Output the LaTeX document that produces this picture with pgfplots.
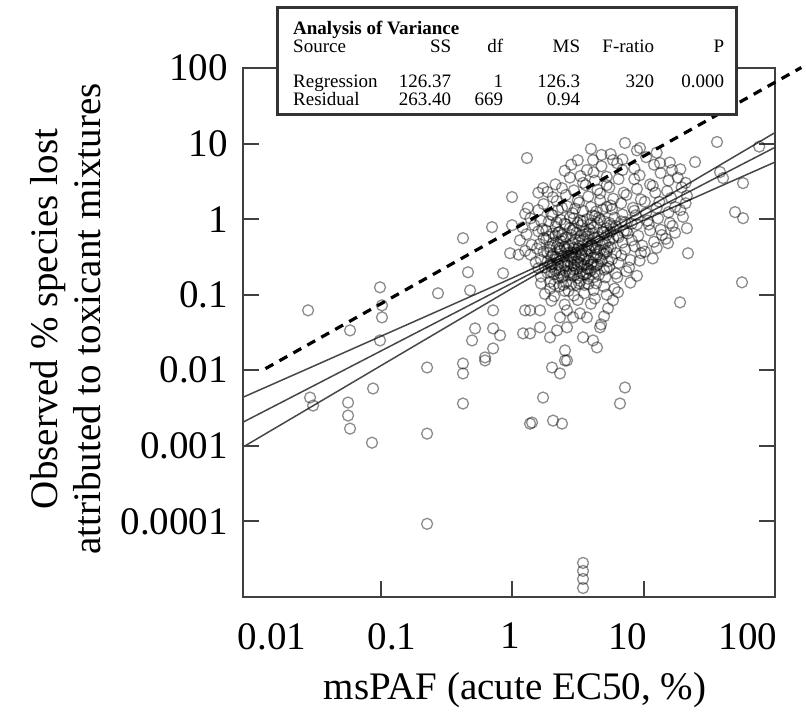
\documentclass[border=0pt]{standalone}
\usepackage{pgfplots}
\pgfplotsset{compat=1.18}
\usepackage{fontspec}
\setmainfont{Liberation Serif}
\newcommand{\bigf}{\fontsize{39}{43}\selectfont}
\newcommand{\boxf}{\fontsize{19}{21}\selectfont}
\begin{document}
\begin{tikzpicture}
\path[use as bounding box] (-243pt,-117pt) rectangle (563pt,597pt);
\begin{axis}[
  at={(0pt,0pt)}, anchor=south west,
  scale only axis, width=532pt, height=529pt,
  xmin=-2.046, xmax=2, ymin=-5, ymax=2,
  clip=false,
  axis line style={draw=black!75, line width=2pt},
  /pgf/number format/assume math mode=true,
  tick align=inside,
  major tick length=16pt,
  xtick={-1,0,1}, xticklabels={,,},
  xtick pos=bottom,
  xtick style={draw=black!75, line width=2pt},
  extra x ticks={-1.825,-0.913,-0.015,0.882,1.795},
  extra x tick labels={\textrm{0.01},\textrm{0.1},\textrm{1},\textrm{10},\textrm{100}},
  extra x tick style={major tick length=0pt, tick style={draw=none}},
  ytick={-4,-3,-2,-1,0,1,2},
  yticklabels={\textrm{0.0001},\textrm{0.001},\textrm{0.01},\textrm{0.1},\textrm{1},\textrm{10},\textrm{100}},
  ytick pos=both, yticklabel pos=left,
  ytick style={draw=black!75, line width=2pt},
  tick label style={font=\bigf, inner sep=0pt},
  xticklabel style={anchor=north, yshift=-26pt},
  yticklabel style={anchor=east, xshift=-15pt},
]
% scatter: log10 values of (msPAF %, observed % species lost)
\addplot[only marks, mark=o, mark size=5.5pt, mark options={draw=black, draw opacity=0.45, line width=1.3pt}] table {
x y
-1.551 -1.207
-1.004 -0.902
-0.989 -1.141
-0.989 -1.300
-1.004 -1.605
-1.232 -1.472
-1.536 -2.361
-1.513 -2.467
-1.247 -2.427
-1.247 -2.599
-1.232 -2.772
-1.057 -2.241
-1.065 -2.958
-0.646 -1.963
-0.646 -2.838
-0.373 -1.910
-0.373 -2.042
-0.373 -2.440
-0.205 -1.870
-0.646 -4.032
-0.563 -0.981
-0.373 -0.252
-0.335 -0.703
-0.319 -0.942
-0.152 -0.106
0.000 0.292
-0.015 -0.451
-0.068 -0.716
0.114 0.809
-0.144 -1.207
-0.281 -1.446
-0.144 -1.446
-0.091 -1.538
-0.304 -1.605
-0.205 -1.830
0.084 -1.512
0.099 -1.207
0.137 -2.706
-0.144 -1.711
0.304 -1.963
0.365 -2.042
0.418 -1.870
0.236 -2.361
0.152 -2.692
0.312 -2.666
0.380 -2.706
0.859 -2.228
0.821 -2.440
0.540 -4.549
0.540 -4.655
0.540 -4.761
0.540 -4.881
0.137 -1.207
0.213 -1.207
0.137 -1.512
0.213 -1.432
0.289 -1.565
0.342 -1.472
0.418 -1.432
0.365 -1.300
0.464 -1.300
0.418 -1.207
0.517 -1.247
0.570 -1.300
0.540 -1.565
0.616 -1.605
0.669 -1.432
0.646 -1.698
0.403 -1.737
0.403 -1.870
1.338 -0.451
1.749 -0.836
1.278 -1.101
0.806 -0.968
0.768 -1.074
0.730 -1.180
0.700 -1.286
0.677 -1.393
1.392 0.756
1.559 1.021
1.757 0.477
1.696 0.093
1.757 0.013
1.186 -0.318
0.859 1.008
0.768 0.782
0.973 0.942
1.217 0.650
1.125 0.743
1.582 0.623
1.605 0.544
0.616 0.782
0.236 0.411
0.000 -0.080
1.880 0.960
0.60 0.93
0.75 0.86
0.95 0.91
1.10 0.88
0.50 0.78
0.68 0.85
0.84 0.79
1.02 0.82
1.20 0.75
0.45 0.72
0.57 0.65
0.68 0.70
0.80 0.74
0.93 0.67
1.08 0.72
1.28 0.66
0.40 0.64
0.52 0.57
0.62 0.62
0.72 0.56
0.84 0.65
0.97 0.58
1.13 0.61
1.26 0.55
0.33 0.46
0.44 0.55
0.54 0.48
0.63 0.51
0.72 0.45
0.81 0.53
0.93 0.53
1.05 0.46
1.19 0.51
1.32 0.48
0.27 0.36
0.38 0.41
0.47 0.38
0.56 0.45
0.65 0.39
0.74 0.42
0.85 0.35
0.95 0.40
1.07 0.44
1.18 0.37
1.29 0.42
0.20 0.35
0.31 0.29
0.41 0.32
0.50 0.25
0.58 0.30
0.67 0.34
0.77 0.27
0.87 0.32
0.98 0.26
1.09 0.35
1.21 0.28
1.33 0.31
0.12 0.15
0.24 0.20
0.34 0.24
0.42 0.17
0.51 0.22
0.60 0.16
0.67 0.25
0.75 0.18
0.83 0.21
0.92 0.15
1.01 0.23
1.12 0.23
1.24 0.16
1.32 0.21
0.10 0.07
0.20 0.12
0.30 0.06
0.38 0.15
0.46 0.08
0.54 0.11
0.61 0.05
0.69 0.13
0.76 0.13
0.84 0.06
0.93 0.11
1.02 0.08
1.10 0.15
1.19 0.09
1.28 0.12
0.14 0.01
0.22 -0.02
0.31 0.05
0.37 -0.01
0.44 0.02
0.50 -0.05
0.57 0.00
0.63 0.04
0.70 -0.03
0.78 0.02
0.86 -0.04
0.94 0.05
1.03 -0.02
1.11 0.01
1.20 -0.05
1.30 0.03
0.08 -0.11
0.17 -0.08
0.26 -0.15
0.33 -0.10
0.40 -0.06
0.47 -0.13
0.53 -0.08
0.59 -0.14
0.65 -0.05
0.72 -0.12
0.79 -0.09
0.87 -0.15
0.95 -0.07
1.04 -0.07
1.13 -0.14
1.22 -0.09
1.33 -0.12
0.11 -0.20
0.20 -0.16
0.28 -0.23
0.35 -0.18
0.41 -0.24
0.46 -0.15
0.52 -0.22
0.58 -0.19
0.63 -0.25
0.69 -0.17
0.75 -0.17
0.81 -0.24
0.88 -0.19
0.96 -0.22
1.05 -0.15
1.14 -0.21
1.24 -0.18
0.06 -0.28
0.15 -0.34
0.24 -0.25
0.31 -0.32
0.37 -0.29
0.43 -0.35
0.48 -0.27
0.54 -0.27
0.60 -0.34
0.65 -0.29
0.71 -0.32
0.77 -0.25
0.84 -0.31
0.91 -0.28
0.99 -0.35
1.08 -0.30
1.17 -0.26
0.10 -0.42
0.19 -0.39
0.27 -0.45
0.34 -0.37
0.40 -0.37
0.45 -0.44
0.50 -0.39
0.56 -0.42
0.61 -0.35
0.67 -0.41
0.73 -0.38
0.79 -0.45
0.86 -0.40
0.93 -0.36
1.01 -0.43
1.10 -0.38
0.05 -0.47
0.14 -0.47
0.22 -0.54
0.30 -0.49
0.36 -0.52
0.42 -0.45
0.47 -0.51
0.53 -0.48
0.58 -0.55
0.64 -0.50
0.70 -0.46
0.76 -0.53
0.83 -0.48
0.90 -0.54
0.98 -0.45
1.07 -0.52
0.18 -0.57
0.25 -0.64
0.31 -0.59
0.37 -0.62
0.42 -0.55
0.47 -0.61
0.52 -0.58
0.57 -0.65
0.62 -0.60
0.68 -0.56
0.74 -0.63
0.81 -0.58
0.89 -0.64
0.97 -0.55
0.20 -0.65
0.27 -0.71
0.33 -0.68
0.39 -0.75
0.44 -0.70
0.49 -0.66
0.54 -0.73
0.60 -0.68
0.66 -0.74
0.72 -0.65
0.79 -0.72
0.87 -0.69
0.95 -0.75
0.22 -0.76
0.29 -0.83
0.35 -0.78
0.41 -0.84
0.47 -0.75
0.52 -0.82
0.58 -0.79
0.64 -0.85
0.71 -0.77
0.80 -0.77
0.90 -0.84
0.22 -0.85
0.29 -0.92
0.36 -0.89
0.43 -0.95
0.49 -0.87
0.55 -0.87
0.62 -0.94
0.70 -0.89
0.78 -0.92
0.25 -0.99
0.32 -1.02
0.40 -0.95
0.47 -1.01
0.55 -0.98
0.63 -1.05
0.72 -1.00
0.30 -1.08
0.40 -1.13
0.50 -1.07
0.60 -1.12
0.28 -0.03
0.41 -0.07
0.52 -0.02
0.60 -0.06
0.67 -0.01
0.75 -0.08
0.83 -0.03
0.91 -0.06
0.23 -0.13
0.36 -0.17
0.44 -0.12
0.56 -0.16
0.62 -0.11
0.70 -0.18
0.77 -0.13
0.85 -0.16
0.26 -0.27
0.33 -0.22
0.39 -0.26
0.45 -0.21
0.51 -0.28
0.57 -0.23
0.66 -0.24
0.74 -0.28
0.80 -0.22
0.21 -0.33
0.29 -0.37
0.35 -0.33
0.40 -0.36
0.46 -0.32
0.51 -0.36
0.57 -0.34
0.63 -0.38
0.69 -0.33
0.75 -0.37
0.24 -0.43
0.31 -0.47
0.37 -0.42
0.43 -0.48
0.48 -0.44
0.53 -0.46
0.59 -0.42
0.65 -0.47
0.72 -0.43
0.27 -0.56
0.34 -0.53
0.40 -0.57
0.45 -0.52
0.50 -0.56
0.55 -0.53
0.61 -0.57
0.67 -0.52
0.73 -0.56
0.30 -0.63
0.36 -0.67
0.42 -0.62
0.47 -0.67
0.53 -0.63
0.58 -0.66
0.64 -0.62
0.70 -0.67
0.32 -0.73
0.38 -0.77
0.44 -0.74
0.50 -0.78
0.56 -0.73
0.62 -0.77
0.35 0.12
0.48 0.14
0.64 0.10
0.72 0.16
0.34 -0.04
0.47 0.01
0.54 -0.03
0.66 0.02
0.74 -0.05
0.31 -0.19
0.38 -0.21
0.49 -0.18
0.55 -0.20
0.61 -0.19
0.72 -0.21
0.29 -0.41
0.36 -0.39
0.42 -0.40
0.47 -0.38
0.53 -0.41
0.58 -0.39
0.64 -0.40
0.70 -0.41
0.33 -0.50
0.39 -0.49
0.45 -0.49
0.51 -0.51
0.56 -0.49
0.62 -0.51
0.29 -0.60
0.35 -0.60
0.40 -0.61
0.45 -0.59
0.50 -0.60
0.55 -0.61
0.60 -0.60
0.65 -0.60
0.30 -0.70
0.36 -0.71
0.41 -0.69
0.46 -0.71
0.52 -0.70
0.57 -0.71
0.63 -0.70
0.32 -0.86
0.39 -0.87
0.45 -0.86
0.51 -0.85
0.58 -0.86
};
% regression line and confidence band (log10 units)
\addplot[draw=black!72, line width=1.5pt] coordinates {(-2.046,-2.357) (-1.5,-1.938) (-1,-1.552) (-0.5,-1.167) (0,-0.780) (0.5,-0.379) (1,0.119) (1.5,0.632) (2,1.145)};
\addplot[draw=black!72, line width=1.5pt] coordinates {(-2.046,-2.687) (-1.5,-2.197) (-1,-1.747) (-0.5,-1.298) (0,-0.848) (0.5,-0.399) (1,0.051) (1.5,0.501) (2,0.950)};
\addplot[draw=black!72, line width=1.5pt] coordinates {(-2.046,-3.016) (-1.5,-2.456) (-1,-1.942) (-0.5,-1.429) (0,-0.916) (0.5,-0.419) (1,-0.017) (1.5,0.370) (2,0.755)};
% dashed line
\addplot[draw=black, line width=3.2pt, dash pattern=on 9pt off 7pt] coordinates {(-1.875,-1.978) (2.2,2.006)};
\end{axis}
% ANOVA box
\draw[line width=3pt, draw=black!80, fill=white] (35pt,482pt) rectangle (493pt,589pt);
\node[anchor=base west, inner sep=0pt, font=\boxf\bfseries] at (50pt,562pt) {Analysis of Variance};
\node[anchor=base west, inner sep=0pt, font=\boxf] at (50pt,544pt) {\makebox[0pt][l]{Source}\makebox[158pt][r]{SS}\makebox[52pt][r]{df}\makebox[77pt][r]{MS}\makebox[74pt][r]{F-ratio}\makebox[70pt][r]{P}};
\node[anchor=base west, inner sep=0pt, font=\boxf] at (50pt,509pt) {\makebox[0pt][l]{Regression}\makebox[158pt][r]{126.37}\makebox[52pt][r]{1}\makebox[77pt][r]{126.3}\makebox[74pt][r]{320}\makebox[70pt][r]{0.000}};
\node[anchor=base west, inner sep=0pt, font=\boxf] at (50pt,491pt) {\makebox[0pt][l]{Residual}\makebox[158pt][r]{263.40}\makebox[52pt][r]{669}\makebox[77pt][r]{0.94}\makebox[74pt][r]{}\makebox[70pt][r]{}};
% axis titles
\node[rotate=90, align=center, font=\bigf, inner sep=0pt] at (-177pt,278pt) {Observed \% species lost\\attributed to toxicant mixtures};
\node[font=\bigf, inner sep=0pt] at (272pt,-93pt) {msPAF (acute EC50, \%)};
\end{tikzpicture}
\end{document}
